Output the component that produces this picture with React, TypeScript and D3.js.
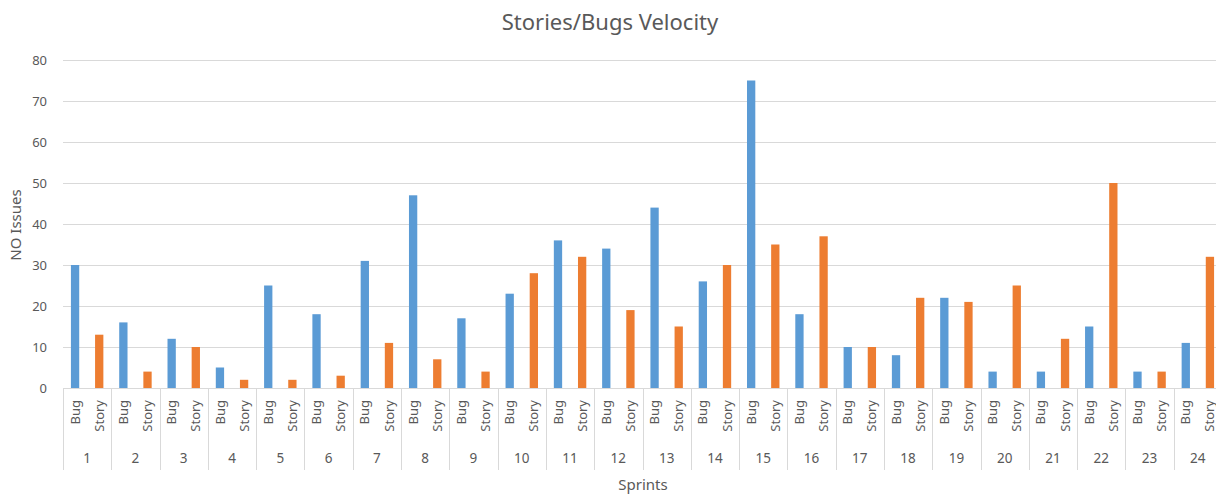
// Stories/Bugs velocity per sprint - grouped column chart with two-level category axis
import React, { useEffect, useRef } from 'react';
import * as d3 from 'd3';

const sprints: string[] = [
  '1', '2', '3', '4', '5', '6', '7', '8', '9', '10', '11', '12',
  '13', '14', '15', '16', '17', '18', '19', '20', '21', '22', '23', '24',
];
const issueTypes: string[] = ['Bug', 'Story'];
const bugCounts: number[] = [30, 16, 12, 5, 25, 18, 31, 47, 17, 23, 36, 34, 44, 26, 75, 18, 10, 8, 22, 4, 4, 15, 4, 11];
const storyCounts: number[] = [13, 4, 10, 2, 2, 3, 11, 7, 4, 28, 32, 19, 15, 30, 35, 37, 10, 22, 21, 25, 12, 50, 4, 32];
const yTicks: number[] = [0, 10, 20, 30, 40, 50, 60, 70, 80];

const typeColors: Record<string, string> = { Bug: '#5b9bd5', Story: '#ed7d31' };

const App: React.FC = () => {
  const plotRef = useRef<SVGSVGElement>(null);

  useEffect(() => {
    if (!plotRef.current) return;
    const svg = d3.select(plotRef.current);
    svg.selectAll('*').remove();

    const width = 1216;
    const height = 495;
    const left = 63;
    const right = 1222; // the plot runs past the picture edge, as in the original
    const top = 60;
    const bottom = 388;
    const axisBottom = 470;
    const font = "'Noto Sans', 'Open Sans', sans-serif";
    const textColor = '#595959';

    svg.attr('width', width).attr('height', height);

    const x0 = d3.scaleBand<string>().domain(sprints).range([left, right]);
    const x1 = d3.scaleBand<string>().domain(issueTypes).range([0, x0.bandwidth()]);
    const y = d3.scaleLinear().domain([0, 80]).range([bottom, top]);
    const barWidth = 8.3;

    // Gridlines
    svg.append('g')
      .selectAll('line')
      .data(yTicks.filter(t => t > 0))
      .join('line')
      .attr('x1', left)
      .attr('x2', right)
      .attr('y1', d => y(d) + 0.5)
      .attr('y2', d => y(d) + 0.5)
      .attr('stroke', '#d9d9d9')
      .attr('stroke-width', 1);

    // Y tick labels
    svg.append('g')
      .selectAll('text')
      .data(yTicks)
      .join('text')
      .attr('x', 47)
      .attr('y', d => y(d))
      .attr('dy', '0.35em')
      .attr('text-anchor', 'end')
      .style('font-family', font)
      .style('font-size', '13px')
      .style('fill', textColor)
      .text(d => d);

    // Bars
    const rows = sprints.map((s, i) => ({ sprint: s, Bug: bugCounts[i], Story: storyCounts[i] }));
    const groups = svg.append('g')
      .selectAll('g')
      .data(rows)
      .join('g')
      .attr('transform', d => `translate(${x0(d.sprint)},0)`);

    groups.selectAll('rect')
      .data(d => issueTypes.map(t => ({ type: t, value: (d as any)[t] as number })))
      .join('rect')
      .attr('x', d => (x1(d.type) ?? 0) + x1.bandwidth() / 2 - barWidth / 2)
      .attr('y', d => y(d.value))
      .attr('width', barWidth)
      .attr('height', d => y(0) - y(d.value))
      .attr('fill', d => typeColors[d.type]);

    // Category axis
    svg.append('line')
      .attr('x1', left)
      .attr('x2', right)
      .attr('y1', bottom + 0.5)
      .attr('y2', bottom + 0.5)
      .attr('stroke', '#d9d9d9');

    svg.append('g')
      .selectAll('line')
      .data(sprints)
      .join('line')
      .attr('x1', d => Math.round(x0(d) ?? 0) + 0.5)
      .attr('x2', d => Math.round(x0(d) ?? 0) + 0.5)
      .attr('y1', bottom)
      .attr('y2', axisBottom)
      .attr('stroke', '#d9d9d9');

    // Bug / Story labels (rotated)
    groups.selectAll('text.type')
      .data(issueTypes)
      .join('text')
      .attr('class', 'type')
      .attr('transform', d => `translate(${(x1(d) ?? 0) + x1.bandwidth() / 2},400) rotate(-90)`)
      .attr('dy', '0.35em')
      .attr('text-anchor', 'end')
      .style('font-family', font)
      .style('font-size', '13px')
      .style('fill', textColor)
      .text(d => d);

    // Sprint numbers
    groups.append('text')
      .attr('x', x0.bandwidth() / 2)
      .attr('y', 458)
      .attr('dy', '0.35em')
      .attr('text-anchor', 'middle')
      .style('font-family', font)
      .style('font-size', '13.5px')
      .style('fill', textColor)
      .text(d => d.sprint);

    // Axis titles
    svg.append('text')
      .attr('x', 643)
      .attr('y', 485)
      .attr('dy', '0.35em')
      .attr('text-anchor', 'middle')
      .style('font-family', font)
      .style('font-size', '15px')
      .style('fill', textColor)
      .text('Sprints');

    svg.append('text')
      .attr('transform', `translate(16,225) rotate(-90)`)
      .attr('dy', '0.35em')
      .attr('text-anchor', 'middle')
      .style('font-family', font)
      .style('font-size', '15px')
      .style('fill', textColor)
      .text('NO Issues');

    // Title
    svg.append('text')
      .attr('x', 610)
      .attr('y', 22)
      .attr('dy', '0.35em')
      .attr('text-anchor', 'middle')
      .style('font-family', font)
      .style('font-size', '22px')
      .style('fill', textColor)
      .text('Stories/Bugs Velocity');
  }, []);

  return (
    <div style={{ position: 'absolute', left: 0, top: 0, width: 1216, height: 495, background: '#fff', overflow: 'hidden' }}>
      <svg ref={plotRef} style={{ display: 'block' }}></svg>
    </div>
  );
};

export default App;
